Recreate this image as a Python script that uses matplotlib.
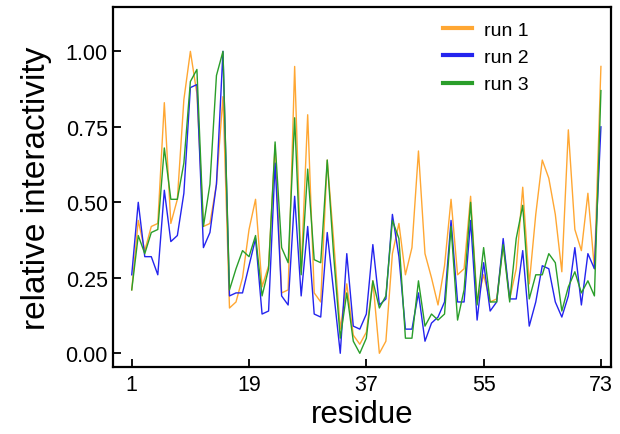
import numpy as np
import matplotlib.pyplot as plt

plt.rcParams['font.family'] = ['Liberation Sans', 'DejaVu Sans']

# relative interactivity per residue
residues = np.arange(1, 74)
run1 = [0.21, 0.44, 0.34, 0.42, 0.43, 0.83, 0.43, 0.51, 0.84, 1.00,
        0.86, 0.42, 0.43, 0.56, 0.85, 0.15, 0.17, 0.25, 0.41, 0.51,
        0.22, 0.29, 0.69, 0.20, 0.21, 0.95, 0.27, 0.79, 0.20, 0.17,
        0.64, 0.37, 0.08, 0.23, 0.06, 0.03, 0.07, 0.24, 0.00, 0.04,
        0.33, 0.43, 0.26, 0.35, 0.67, 0.33, 0.25, 0.16, 0.29, 0.51,
        0.26, 0.28, 0.52, 0.17, 0.26, 0.17, 0.18, 0.36, 0.18, 0.28,
        0.55, 0.23, 0.46, 0.64, 0.58, 0.46, 0.27, 0.74, 0.41, 0.34,
        0.53, 0.28, 0.95]
run2 = [0.26, 0.50, 0.32, 0.32, 0.26, 0.54, 0.37, 0.39, 0.53, 0.88,
        0.89, 0.35, 0.40, 0.56, 1.00, 0.19, 0.20, 0.20, 0.29, 0.38,
        0.13, 0.14, 0.63, 0.19, 0.16, 0.52, 0.19, 0.42, 0.13, 0.12,
        0.40, 0.20, 0.00, 0.33, 0.09, 0.08, 0.13, 0.36, 0.16, 0.18,
        0.46, 0.32, 0.08, 0.08, 0.20, 0.04, 0.10, 0.12, 0.17, 0.44,
        0.17, 0.17, 0.44, 0.11, 0.30, 0.14, 0.17, 0.38, 0.18, 0.18,
        0.34, 0.09, 0.17, 0.29, 0.28, 0.17, 0.12, 0.19, 0.35, 0.16,
        0.33, 0.28, 0.75]
run3 = [0.21, 0.39, 0.33, 0.40, 0.41, 0.68, 0.51, 0.51, 0.63, 0.90,
        0.94, 0.42, 0.56, 0.92, 1.00, 0.21, 0.28, 0.34, 0.32, 0.39,
        0.19, 0.28, 0.70, 0.35, 0.30, 0.78, 0.26, 0.61, 0.31, 0.30,
        0.64, 0.32, 0.05, 0.20, 0.04, 0.00, 0.05, 0.24, 0.15, 0.19,
        0.44, 0.38, 0.05, 0.05, 0.24, 0.09, 0.13, 0.11, 0.13, 0.42,
        0.11, 0.21, 0.50, 0.16, 0.35, 0.17, 0.17, 0.36, 0.17, 0.38,
        0.49, 0.18, 0.26, 0.26, 0.33, 0.30, 0.14, 0.22, 0.27, 0.20,
        0.24, 0.19, 0.87]

labels = ["run 1", "run 2", "run 3"]
colors = ["#ffa733", "#2424ee", "#2a9e2a"]

fig = plt.figure(figsize=(6.2, 4.35), dpi=100)
ax = fig.add_axes([0.182, 0.155, 0.803, 0.826])

for vals, lab, col in zip([run1, run2, run3], labels, colors):
    ax.plot(residues, vals, color=col, linewidth=1.0, label=lab)

ax.set_xlim(-1.9, 74.5)
ax.set_ylim(-0.044, 1.146)
ax.set_xticks([1, 19, 37, 55, 73])
ax.set_yticks([0, 0.25, 0.5, 0.75, 1.0])
ax.set_yticklabels(["0.00", "0.25", "0.50", "0.75", "1.00"])

for sp in ax.spines.values():
    sp.set_linewidth(1.6)
ax.tick_params(direction="in", length=6, width=1.3, labelsize=15.5,
               top=False, right=False)
ax.tick_params(axis="x", pad=5)

ax.set_xlabel("residue", fontsize=22.5, labelpad=3)
ax.set_ylabel("relative interactivity", fontsize=24, labelpad=10)

leg = ax.legend(loc="upper right", bbox_to_anchor=(0.87, 1.01), frameon=False,
                fontsize=14, handlelength=1.5, handletextpad=0.6,
                labelspacing=0.5)
for line in leg.get_lines():
    line.set_linewidth(3)

fig.savefig("out.png", dpi=100)
